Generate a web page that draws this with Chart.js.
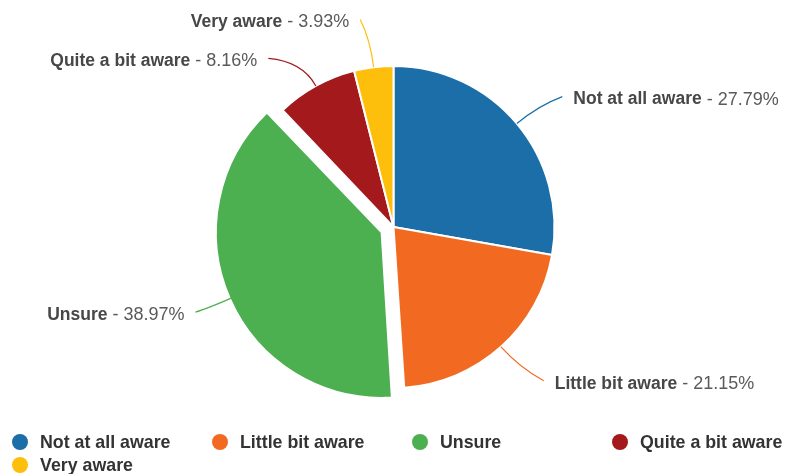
<!DOCTYPE html>
<html>
<head>
<meta charset="utf-8">
<script src="https://cdn.jsdelivr.net/npm/chart.js@4/dist/chart.umd.min.js"></script>
<style>
  body { margin: 0; background: #ffffff; }
  #wrap { width: 787px; height: 474px; }
</style>
</head>
<body>
<div id="wrap"><canvas id="awareness-chart" width="787" height="474"></canvas></div>
<script>
const categories = ["Not at all aware", "Little bit aware", "Unsure", "Quite a bit aware", "Very aware"];
const percentages = [27.79, 21.15, 38.97, 8.16, 3.93];
const sliceColors = ["#1b6ea8", "#f26a21", "#4caf50", "#a3191c", "#fdbf0b"];

// only the "Unsure" slice is pulled out
const explodePx = [0, 0, 13, 0, 0];
// small hand tweaks so the labels sit where the original has them
const labelNudge = [[8, -9], [8, 13], [3, 4], [-18, -3], [6, -20]];

const fontFamily = "'Liberation Sans', Arial, sans-serif";

const sliceLabels = {
    id: "sliceLabels",
    afterDatasetsDraw(chart) {
        const ctx = chart.ctx;
        const arcs = chart.getDatasetMeta(0).data;
        arcs.forEach((arc, i) => {
            const mid = (arc.startAngle + arc.endAngle) / 2;
            const cx = arc.x + Math.cos(mid) * explodePx[i];
            const cy = arc.y + Math.sin(mid) * explodePx[i];
            const r = arc.outerRadius;
            const side = Math.cos(mid) >= 0 ? 1 : -1;

            const p0 = { x: cx + Math.cos(mid) * r, y: cy + Math.sin(mid) * r };
            const c = { x: cx + Math.cos(mid) * (r + 28), y: cy + Math.sin(mid) * (r + 28) };
            const e = { x: c.x + side * 16 + labelNudge[i][0], y: c.y + labelNudge[i][1] };

            ctx.save();
            ctx.strokeStyle = sliceColors[i];
            ctx.lineWidth = 1.2;
            ctx.beginPath();
            ctx.moveTo(p0.x, p0.y);
            ctx.quadraticCurveTo(c.x, c.y, e.x, e.y);
            ctx.stroke();

            const boldPart = categories[i];
            const normalPart = " - " + percentages[i].toFixed(2) + "%";
            ctx.textBaseline = "middle";
            ctx.font = "bold 17.5px " + fontFamily;
            const wBold = ctx.measureText(boldPart).width;
            ctx.font = "18px " + fontFamily;
            const wNormal = ctx.measureText(normalPart).width;

            let x = e.x + side * 11;
            if (side < 0) x -= wBold + wNormal;
            const y = e.y + 3;
            ctx.textAlign = "left";
            ctx.fillStyle = "#474747";
            ctx.font = "bold 17.5px " + fontFamily;
            ctx.fillText(boldPart, x, y);
            ctx.fillStyle = "#5a5a5a";
            ctx.font = "18px " + fontFamily;
            ctx.fillText(normalPart, x + wBold, y);
            ctx.restore();
        });
    }
};

// legend laid out in fixed columns like the original
const gridLegend = {
    id: "gridLegend",
    afterDraw(chart) {
        const ctx = chart.ctx;
        const colWidth = 200;
        const perRow = 4;
        ctx.save();
        ctx.font = "bold 17.8px " + fontFamily;
        ctx.textBaseline = "middle";
        ctx.textAlign = "left";
        categories.forEach((name, i) => {
            const col = i % perRow;
            const row = Math.floor(i / perRow);
            const x = 20 + col * colWidth;
            const y = 442 + row * 23;
            ctx.fillStyle = sliceColors[i];
            ctx.beginPath();
            ctx.arc(x, y, 8, 0, Math.PI * 2);
            ctx.fill();
            ctx.fillStyle = "#333333";
            ctx.fillText(name, x + 20, y + 1);
        });
        ctx.restore();
    }
};

new Chart(document.getElementById("awareness-chart"), {
    type: "pie",
    data: {
        labels: categories,
        datasets: [{
            data: percentages,
            backgroundColor: sliceColors,
            borderColor: "#ffffff",
            borderWidth: 2,
            offset: explodePx.map(v => v * 4)
        }]
    },
    options: {
        responsive: false,
        animation: false,
        radius: 161,
        layout: { padding: { top: 0, bottom: 20, left: 0, right: 0 } },
        plugins: {
            legend: { display: false },
            tooltip: { enabled: false }
        }
    },
    plugins: [sliceLabels, gridLegend]
});
</script>
</body>
</html>
